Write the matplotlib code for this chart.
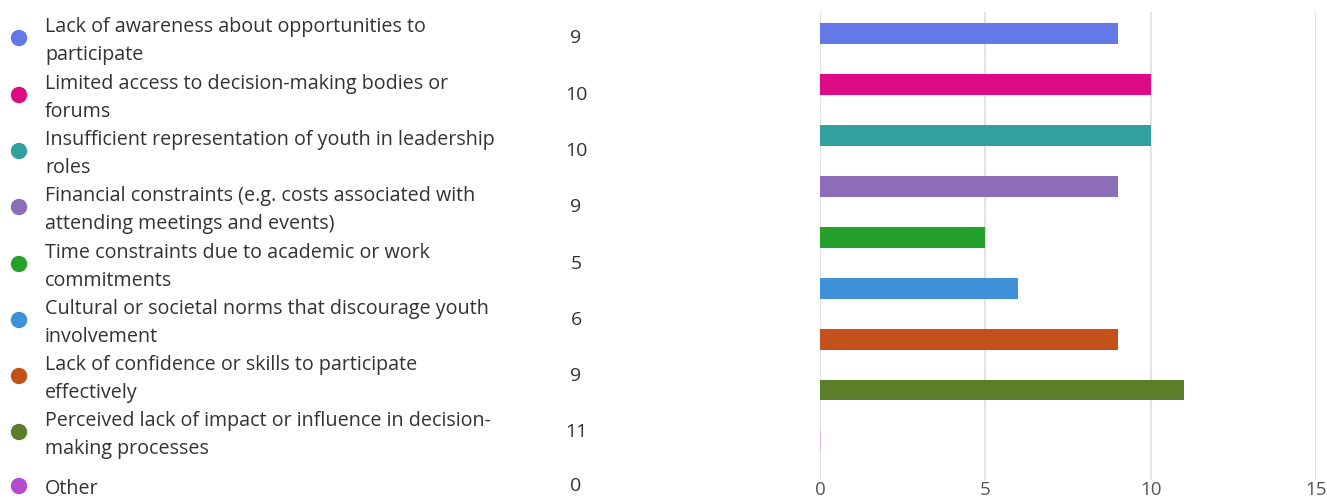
import numpy as np
import matplotlib.pyplot as plt
import matplotlib as mpl

mpl.rc('font', family=['Open Sans', 'DejaVu Sans'])

labels = [
    'Lack of awareness about opportunities to\nparticipate',
    'Limited access to decision-making bodies or\nforums',
    'Insufficient representation of youth in leadership\nroles',
    'Financial constraints (e.g. costs associated with\nattending meetings and events)',
    'Time constraints due to academic or work\ncommitments',
    'Cultural or societal norms that discourage youth\ninvolvement',
    'Lack of confidence or skills to participate\neffectively',
    'Perceived lack of impact or influence in decision-\nmaking processes',
    'Other',
]
counts = [9, 10, 10, 9, 5, 6, 9, 11, 0]
colors = ['#6479E8', '#DC0A85', '#33A0A0', '#8E6DB8', '#25A02B',
          '#3F92D8', '#C4511C', '#5A7E2A', '#B54AD0']
xticks = [0, 5, 10, 15]

W, H = 1327, 504
fig = plt.figure(figsize=(W / 100, H / 100), dpi=100)

# bar chart on the right
ax = fig.add_axes([820 / W, 1 - 480 / H, 496 / W, 468 / H])
pos = np.arange(len(counts))
ax.barh(pos, counts, height=0.41, color=colors, zorder=3)
# zero-value bar shows as a thin sliver
ax.barh(pos[-1], 0, height=0.41, edgecolor='#DDB0EA', linewidth=1.2, zorder=3)
ax.set_xlim(0, 15)
ax.set_ylim(8.77, -0.43)
ax.set_xticks(xticks)
ax.set_yticks([])
ax.grid(axis='x', color='#DEDEDE', linewidth=1.2, zorder=0)
for s in ax.spines.values():
    s.set_visible(False)
ax.tick_params(axis='x', length=0, pad=1, labelsize=13.5, labelcolor='#555555')

# legend-like list on the left
row_y = [38, 95, 151, 207, 264, 320, 376, 432, 486]
for lab, n, c, y in zip(labels, counts, colors, row_y):
    fy = 1 - y / H
    fig.patches.append(mpl.patches.Ellipse((19 / W, fy), 15 / W, 15 / H,
                                           transform=fig.transFigure, color=c))
    fig.text(45 / W, fy - 3 / H, lab, ha='left', va='center', fontsize=14.2,
             color='#333333', linespacing=1.48)
    fig.text(576 / W, fy, str(n), ha='center', va='center', fontsize=14,
             color='#333333')

fig.savefig('out.png', dpi=100)
